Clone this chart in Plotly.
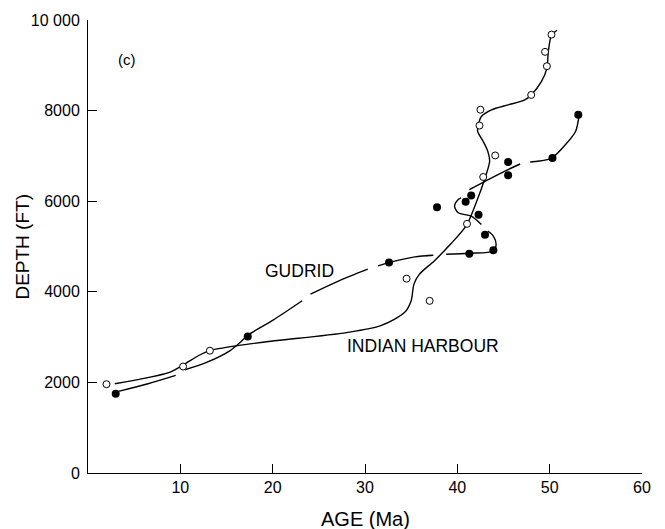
import plotly.graph_objects as go

# Indian Harbour well: biostratigraphic picks (open circles)
ih_age = [2.0, 10.3, 13.2, 34.5, 37.0, 41.05, 42.8, 44.1, 42.4, 42.5, 48.0, 49.7, 49.5, 50.2]
ih_depth = [1960, 2350, 2700, 4290, 3800, 5500, 6535, 7010, 7670, 8020, 8346, 8980, 9297, 9678]

# Gudrid well: biostratigraphic picks (filled circles)
gu_age = [3.0, 17.3, 32.6, 41.3, 43.9, 43.0, 42.3, 37.8, 40.9, 41.5, 45.5, 45.5, 50.3, 53.1]
gu_depth = [1752, 3011, 4645, 4842, 4916, 5260, 5700, 5869, 5990, 6126, 6572, 6864, 6952, 7906]

# Interpreted age-depth curve, Indian Harbour (solid)
ih_curve_age = [2.9, 8.9, 10.5, 12.2, 13.2, 16.2, 19.8, 28.0, 31.7, 34.3, 35.0, 35.3, 35.9,
                37.5, 39.3, 41.0, 42.1, 43.0, 43.5, 43.3, 42.8, 42.2, 42.3, 42.6, 43.7,
                45.5, 47.3, 48.0, 49.1, 49.7, 49.85, 50.2, 50.8]
ih_curve_depth = [1971, 2227, 2411, 2616, 2703, 2813, 2908, 3100, 3253, 3546, 3803, 4169, 4389,
                  4682, 5060, 5473, 6000, 6513, 6880, 7100, 7319, 7539, 7700, 7869, 8016,
                  8126, 8236, 8346, 8639, 8931, 9297, 9664, 9774]

# Interpreted age-depth curve, Gudrid (long dashes; None breaks the line)
gu_curve_age = [3.3, 6.5, 9.5, None,
                10.5, 12.9, 15.4, 16.5, 17.25, 20.0, 23.2, None,
                24.1, 27.0, 30.3, None,
                31.4, 32.6, 35.4, 37.4, None,
                38.8, 41.3, 43.9, 44.2, 43.9, 43.3, None,
                42.6, 41.5, 40.1, 39.7, 40.1, 40.4, None,
                41.3, 43.0, 45.1, 46.8, None,
                47.9, 50.2, 51.7, 52.8, 53.2]
gu_curve_depth = [1802, 1970, 2154, None,
                  2279, 2447, 2703, 2886, 3033, 3370, 3803, None,
                  3950, 4227, 4499, None,
                  4572, 4645, 4770, 4807, None,
                  4829, 4851, 4901, 5049, 5231, 5341, None,
                  5488, 5671, 5744, 5891, 6038, 6073, None,
                  6257, 6440, 6660, 6821, None,
                  6865, 6952, 7246, 7539, 7906]

x_ticks = [10, 20, 30, 40, 50, 60]
y_ticks = [0, 2000, 4000, 6000, 8000, 10000]
y_tick_text = ["0", "2000", "4000", "6000", "8000", "10 000"]

FONT = "Liberation Sans, Arial, Helvetica, sans-serif"

fig = go.Figure()

fig.add_trace(go.Scatter(
    x=ih_curve_age, y=ih_curve_depth, mode="lines",
    line=dict(color="black", width=1.4, shape="spline", smoothing=0.8),
    hoverinfo="skip", showlegend=False))

fig.add_trace(go.Scatter(
    x=gu_curve_age, y=gu_curve_depth, mode="lines",
    line=dict(color="black", width=1.4, shape="spline", smoothing=0.8),
    connectgaps=False, hoverinfo="skip", showlegend=False))

fig.add_trace(go.Scatter(
    x=ih_age, y=ih_depth, mode="markers", name="Indian Harbour",
    marker=dict(symbol="circle", size=7, color="white",
                line=dict(color="black", width=1)),
    showlegend=False))

fig.add_trace(go.Scatter(
    x=gu_age, y=gu_depth, mode="markers", name="Gudrid",
    marker=dict(symbol="circle", size=8, color="black",
                line=dict(color="black", width=0)),
    showlegend=False))

fig.add_annotation(x=22.9, y=4460, text="GUDRID", showarrow=False,
                   font=dict(family=FONT, size=17.5, color="black"))
fig.add_annotation(x=36.25, y=2813, text="INDIAN HARBOUR", showarrow=False,
                   font=dict(family=FONT, size=17.5, color="black"))
fig.add_annotation(x=4.24, y=9122, text="(c)", showarrow=False,
                   font=dict(family=FONT, size=15, color="black"))

# Axis titles placed in paper coordinates
fig.add_annotation(xref="paper", yref="paper", x=-0.119, y=0.5,
                   xanchor="center", yanchor="middle",
                   text="DEPTH (FT)", textangle=-90, showarrow=False,
                   font=dict(family=FONT, size=19, color="black"))
fig.add_annotation(xref="paper", yref="paper", x=0.5, y=-0.101,
                   xanchor="center", yanchor="middle",
                   text="AGE (Ma)", showarrow=False,
                   font=dict(family=FONT, size=20, color="black"))

fig.update_layout(
    width=665, height=529,
    margin=dict(l=88, r=23, t=18, b=56),
    paper_bgcolor="white", plot_bgcolor="white",
    font=dict(family=FONT, size=16, color="black"),
)

fig.update_xaxes(
    range=[0, 60], tickvals=x_ticks, ticks="inside", ticklen=9, tickwidth=1,
    tickcolor="black", showline=True, linecolor="black", linewidth=1,
    showgrid=False, zeroline=False, tickfont=dict(size=16),
)
fig.update_yaxes(
    range=[0, 10000], tickvals=y_ticks, ticktext=y_tick_text, ticks="inside",
    ticklen=9, tickwidth=1, tickcolor="black", showline=True, linecolor="black",
    linewidth=1, showgrid=False, zeroline=False, tickfont=dict(size=16),
    ticklabelstandoff=4,
)

fig.write_html("out.html")
